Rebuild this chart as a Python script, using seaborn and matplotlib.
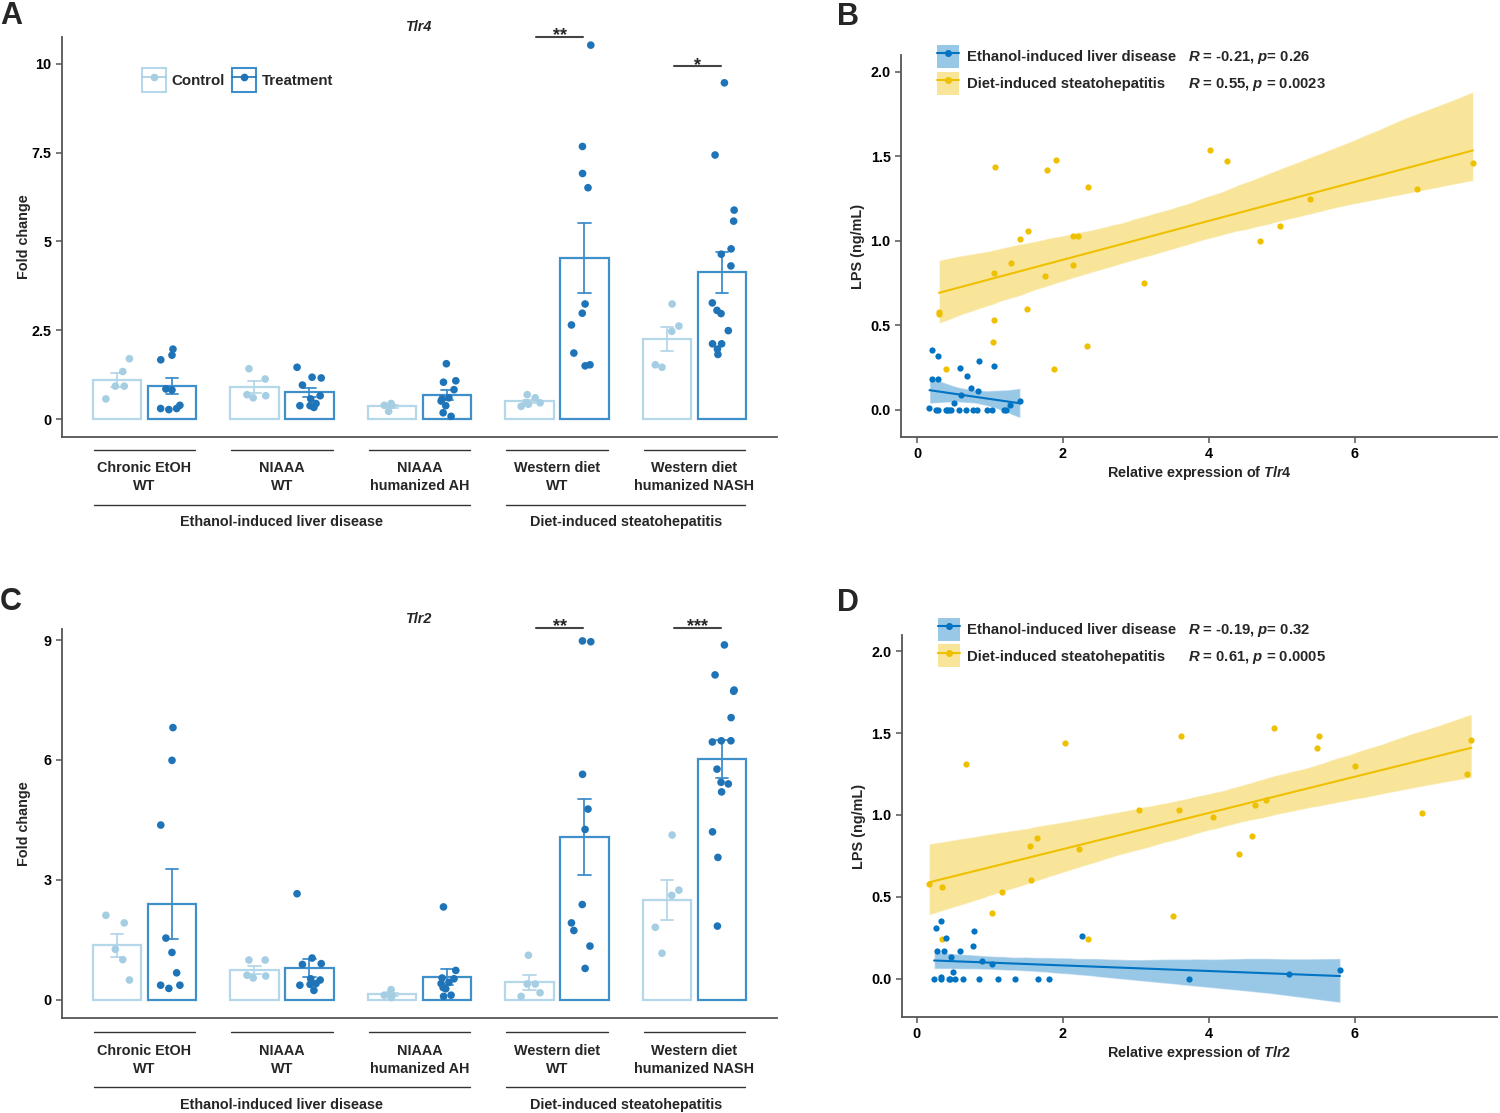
import numpy as np
import pandas as pd
import matplotlib
matplotlib.use("Agg")
import matplotlib.pyplot as plt
import seaborn as sns
from matplotlib.patches import Rectangle
from matplotlib.lines import Line2D
from matplotlib.collections import PolyCollection
from matplotlib.legend_handler import HandlerTuple
from matplotlib.ticker import FuncFormatter

# ---------------- data ----------------
groups = ["Chronic EtOH\nWT", "NIAAA\nWT", "NIAAA\nhumanized AH",
          "Western diet\nWT", "Western diet\nhumanized NASH"]
models = ["Ethanol-induced liver disease", "Diet-induced steatohepatitis"]
group_model = [0, 0, 0, 1, 1]
conditions = ["Control", "Treatment"]

# Tlr4 fold change (individual animals)
tlr4_ctrl = [
    [0.57, 0.93, 0.93, 1.34, 1.70],
    [1.42, 1.13, 0.69, 0.60, 0.66],
    [0.44, 0.39, 0.39, 0.22],
    [0.46, 0.42, 0.60, 0.69, 0.46, 0.36],
    [3.24, 2.62, 2.47, 1.53, 1.46],
]
tlr4_trt = [
    [1.97, 1.80, 1.67, 0.85, 0.82, 0.30, 0.39, 0.27, 0.30],
    [1.46, 1.18, 1.16, 0.96, 0.57, 0.66, 0.38, 0.38, 0.44, 0.33],
    [1.56, 1.04, 1.08, 0.83, 0.57, 0.60, 0.51, 0.38, 0.18, 0.08],
    [10.52, 7.67, 6.91, 6.51, 3.24, 2.98, 2.65, 1.86, 1.53, 1.50],
    [9.46, 7.43, 5.88, 5.57, 4.79, 4.64, 4.31, 3.27, 3.06, 2.97, 2.49, 2.12, 2.12, 1.82, 1.97],
]
tlr4_stars = ["", "", "", "**", "*"]
tlr4_star_y = [None, None, None, 10.75, 9.92]

# Tlr2 fold change
tlr2_ctrl = [
    [2.11, 1.92, 1.26, 1.00, 0.49],
    [0.99, 0.99, 0.61, 0.54, 0.59],
    [0.25, 0.11, 0.11, 0.13, 0.05],
    [1.11, 0.39, 0.39, 0.17, 0.08],
    [4.12, 2.74, 2.61, 1.81, 1.16],
]
tlr2_trt = [
    [6.81, 5.99, 4.37, 1.54, 1.18, 0.67, 0.36, 0.28, 0.36],
    [2.65, 1.04, 0.90, 0.88, 0.52, 0.49, 0.36, 0.38, 0.40, 0.23],
    [2.32, 0.73, 0.52, 0.54, 0.43, 0.40, 0.27, 0.30, 0.11, 0.08],
    [8.96, 8.98, 5.64, 4.77, 4.26, 2.38, 1.92, 1.73, 1.34, 0.78],
    [8.88, 8.13, 7.75, 7.72, 7.06, 6.48, 6.48, 6.45, 5.77, 5.44, 5.40, 5.20, 4.20, 3.56, 1.84],
]
tlr2_stars = ["", "", "", "**", "***"]
tlr2_star_y = [None, None, None, 9.31, 9.31]

# LPS vs Tlr4 expression
tlr4_eth_x = [0.21, 0.29, 0.20, 0.28, 0.59, 0.68, 0.85, 1.05, 0.74, 0.84, 0.60, 0.50, 0.17,
              0.26, 0.29, 0.39, 0.41, 0.44, 0.47, 0.58, 0.67, 0.77, 0.82, 0.96, 1.03, 1.19, 1.22,
              1.27, 1.41]
tlr4_eth_y = [0.355, 0.32, 0.18, 0.18, 0.25, 0.20, 0.29, 0.26, 0.13, 0.11, 0.09, 0.04, 0.01,
              0.0, 0.0, 0.0, 0.0, 0.0, 0.0, 0.0, 0.0, 0.0, 0.0, 0.0, 0.0, 0.0, 0.0,
              0.03, 0.05]
tlr4_diet_x = [0.30, 0.30, 0.40, 1.07, 1.06, 1.06, 1.04, 1.29, 1.41, 1.52, 1.50, 1.76, 1.78, 1.90,
               1.87, 2.14, 2.21, 2.14, 2.34, 2.33, 3.11, 4.01, 4.25, 4.70, 4.98, 5.38, 6.85, 7.62]
tlr4_diet_y = [0.58, 0.565, 0.24, 1.44, 0.81, 0.53, 0.40, 0.87, 1.01, 1.06, 0.60, 0.79, 1.42, 1.48,
               0.24, 1.03, 1.03, 0.86, 1.32, 0.38, 0.75, 1.54, 1.47, 1.00, 1.09, 1.25, 1.31, 1.46]
tlr4_stats = [r"$R$ = -0.21, $p$= 0.26", r"$R$ = 0.55, $p$ = 0.0023"]

# LPS vs Tlr2 expression
tlr2_eth_x = [0.27, 0.33, 0.40, 0.78, 0.77, 0.28, 0.37, 0.59, 0.47, 0.90, 1.03, 0.50, 2.27, 0.24,
              0.33, 0.34, 0.44, 0.46, 0.53, 0.64, 0.86, 1.11, 1.35, 1.66, 1.82, 3.73, 5.10, 5.80]
tlr2_eth_y = [0.31, 0.35, 0.25, 0.29, 0.20, 0.17, 0.17, 0.17, 0.13, 0.11, 0.09, 0.04, 0.26, 0.0,
              0.0, 0.01, 0.0, 0.0, 0.0, 0.0, 0.0, 0.0, 0.0, 0.0, 0.0, 0.0, 0.03, 0.05]
tlr2_diet_x = [0.17, 0.35, 0.35, 0.68, 1.17, 1.03, 1.56, 1.65, 1.57, 2.04, 2.23, 2.35, 3.05, 3.59,
               3.62, 3.51, 4.06, 4.42, 4.59, 4.63, 4.79, 4.90, 5.49, 5.51, 6.00, 6.92, 7.54, 7.60]
tlr2_diet_y = [0.58, 0.56, 0.24, 1.31, 0.53, 0.40, 0.81, 0.86, 0.60, 1.44, 0.79, 0.24, 1.03, 1.03,
               1.48, 0.38, 0.99, 0.76, 0.87, 1.06, 1.09, 1.53, 1.41, 1.48, 1.30, 1.01, 1.25, 1.46]
tlr2_stats = [r"$R$ = -0.19, $p$= 0.32", r"$R$ = 0.61, $p$ = 0.0005"]

# ---------------- style ----------------
bar_edge = {"Control": "#b5d7ea", "Treatment": "#3f8fcb"}
dot_color = {"Control": "#a6cee3", "Treatment": "#1f74b8"}
jco_blue = "#0073C2"
jco_yellow = "#EFC000"

sns.set_theme(style="ticks")
plt.rcParams["font.family"] = ["Liberation Sans", "DejaVu Sans"]
plt.rcParams["font.weight"] = "bold"
plt.rcParams["axes.labelweight"] = "bold"
plt.rcParams["axes.titleweight"] = "bold"
plt.rcParams["mathtext.fontset"] = "custom"
plt.rcParams["mathtext.rm"] = "Liberation Sans:bold"
plt.rcParams["mathtext.it"] = "Liberation Sans:italic:bold"
plt.rcParams["mathtext.bf"] = "Liberation Sans:bold"

FIG_H = 1113
fig = plt.figure(figsize=(15, 11.13), dpi=100)
FS = 10.4


def style_spines(ax):
    sns.despine(ax=ax)
    for s in ["left", "bottom"]:
        ax.spines[s].set_color("#555555")
        ax.spines[s].set_linewidth(1.3)
    ax.tick_params(colors="#555555", labelcolor="black", labelsize=FS, width=1.1, length=4)


def bar_panel(ax, ctrl, trt, stars, star_y, title, yticks, ylim, offs):
    rows = []
    for cond, sets in zip(conditions, [ctrl, trt]):
        for g, vals in zip(groups, sets):
            for v in vals:
                rows.append((g, cond, v))
    df = pd.DataFrame(rows, columns=["group", "condition", "fold"])

    for cond in conditions:
        sub = df[df["condition"] == cond]
        sns.barplot(data=sub, x="group", y="fold", hue="condition", order=groups,
                    hue_order=conditions, palette=bar_edge, fill=False, gap=0.12,
                    dodge=True, errorbar="se", capsize=0.18, linewidth=1.6,
                    err_kws={"color": bar_edge[cond], "linewidth": 1.3},
                    legend=False, ax=ax)
    np.random.seed(7)
    sns.stripplot(data=df, x="group", y="fold", hue="condition", order=groups,
                  hue_order=conditions, palette=dot_color, dodge=True, jitter=0.19,
                  size=5.5, linewidth=0, legend=False, ax=ax)

    ax.set_xlim(-0.6, 4.6)
    ax.set_ylim(*ylim)
    ax.set_yticks(yticks)
    ax.yaxis.set_major_formatter(FuncFormatter(lambda v, p: f"{v:g}"))
    ax.set_xticks([])
    ax.set_xlabel("")
    ax.set_ylabel("Fold change", fontsize=FS)
    ax.yaxis.set_label_coords(-0.043, 0.5)
    ax.set_title(title, fontsize=FS, fontstyle="italic", pad=4)
    style_spines(ax)

    # significance brackets
    for i, (s, y) in enumerate(zip(stars, star_y)):
        if s:
            ax.plot([i - 0.15, i + 0.19], [y, y], color="#444444", lw=1.5, clip_on=False)
            ax.annotate(s, (i + 0.02, y), xytext=(0, -2.5), textcoords="offset points",
                        ha="center", va="baseline", fontsize=13, annotation_clip=False)

    # group / model labels under the axis
    h = ax.get_position().height * FIG_H
    tr = ax.get_xaxis_transform()
    line1, text1, line2, text2 = offs
    for i, g in enumerate(groups):
        ax.plot([i - 0.37, i + 0.37], [-line1 / h] * 2, transform=tr, clip_on=False,
                color="#333333", lw=1.0)
        ax.text(i, -text1 / h, g, transform=tr, ha="center", va="center",
                fontsize=FS, linespacing=1.38)
    for m, name in enumerate(models):
        idx = [i for i, gm in enumerate(group_model) if gm == m]
        ax.plot([min(idx) - 0.37, max(idx) + 0.37], [-line2 / h] * 2, transform=tr,
                clip_on=False, color="#333333", lw=1.0)
        ax.text((min(idx) + max(idx)) / 2, -text2 / h, name, transform=tr,
                ha="center", va="center", fontsize=FS)


def scatter_panel(ax, eth, diet, stats, gene, xlim, ylim, leg_y):
    for (x, y), col in zip([diet, eth], [jco_yellow, jco_blue]):
        sns.regplot(x=np.array(x), y=np.array(y), ax=ax, color=col, ci=95, seed=11,
                    scatter_kws={"s": 20, "alpha": 1, "linewidths": 0},
                    line_kws={"linewidth": 1.5})
    for pc in ax.collections:
        if isinstance(pc, PolyCollection):
            pc.set_alpha(0.4)
            pc.set_zorder(0.5)
    ax.set_xlim(*xlim)
    ax.set_ylim(*ylim)
    ax.set_xticks([0, 2, 4, 6])
    ax.set_yticks([0, 0.5, 1.0, 1.5, 2.0])
    ax.set_xlabel(r"Relative expression of $\it{" + gene + "}$", fontsize=FS)
    ax.set_ylabel("LPS (ng/mL)", fontsize=FS)
    ax.yaxis.set_label_coords(-0.06, 0.5)
    ax.xaxis.set_label_coords(0.5, -0.072)
    style_spines(ax)

    h_eth = (Rectangle((0, 0), 1, 1, fc=jco_blue, alpha=0.4, ec="none"),
             Line2D([], [], color=jco_blue, lw=1.5, marker="o", ms=4))
    h_diet = (Rectangle((0, 0), 1, 1, fc=jco_yellow, alpha=0.4, ec="none"),
              Line2D([], [], color=jco_yellow, lw=1.5, marker="o", ms=4))
    blank = Rectangle((0, 0), 1, 1, fc="none", ec="none")
    ax.legend([h_eth, h_diet, blank, blank], [models[0], models[1], stats[0], stats[1]],
              ncol=2, handler_map={tuple: HandlerTuple(ndivide=1, pad=0)},
              loc="center left", bbox_to_anchor=(0.06, leg_y), frameon=False,
              fontsize=FS + 0.3, handlelength=1.5, handleheight=2.0, handletextpad=0.5,
              columnspacing=-1.2, labelspacing=0.25, borderpad=0, borderaxespad=0)


# ---------------- panels ----------------
axA = fig.add_axes([0.0413, 0.6074, 0.4767, 0.3594])
bar_panel(axA, tlr4_ctrl, tlr4_trt, tlr4_stars, tlr4_star_y, "Tlr4",
          [0, 2.5, 5, 7.5, 10], (-0.5, 10.75), (13, 40, 68, 85))
leg_handles = [(Rectangle((0, 0), 1, 1, fc="white", ec=bar_edge[c], lw=1.5),
                Line2D([], [], color=dot_color[c], lw=1.2, marker="o", ms=4.5))
               for c in conditions]
axA.legend(leg_handles, conditions, ncol=2, handler_map={tuple: HandlerTuple(ndivide=1, pad=0)},
           loc="center left", bbox_to_anchor=(0.112, 0.8925), frameon=False,
           fontsize=FS + 0.4, handlelength=1.6, handleheight=2.0, handletextpad=0.35,
           columnspacing=0.5, borderpad=0, borderaxespad=0)

axC = fig.add_axes([0.0413, 0.0854, 0.4767, 0.3495])
bar_panel(axC, tlr2_ctrl, tlr2_trt, tlr2_stars, tlr2_star_y, "Tlr2",
          [0, 3, 6, 9], (-0.46, 9.28), (14, 42, 69, 87))

axB = fig.add_axes([0.6007, 0.6074, 0.3973, 0.3432])
scatter_panel(axB, (tlr4_eth_x, tlr4_eth_y), (tlr4_diet_x, tlr4_diet_y), tlr4_stats,
              "Tlr4", (-0.22, 7.95), (-0.16, 2.10), 0.961)

axD = fig.add_axes([0.6013, 0.0863, 0.3967, 0.3432])
scatter_panel(axD, (tlr2_eth_x, tlr2_eth_y), (tlr2_diet_x, tlr2_diet_y), tlr2_stats,
              "Tlr2", (-0.2, 7.95), (-0.235, 2.10), 0.980)

for x, y, letter in [(0.0, 0.999, "A"), (0.558, 0.998, "B"),
                     (0.0, 0.473, "C"), (0.558, 0.472, "D")]:
    fig.text(x, y, letter, fontsize=22, fontweight="bold", va="top", ha="left")

fig.savefig("out.png", dpi=100)
